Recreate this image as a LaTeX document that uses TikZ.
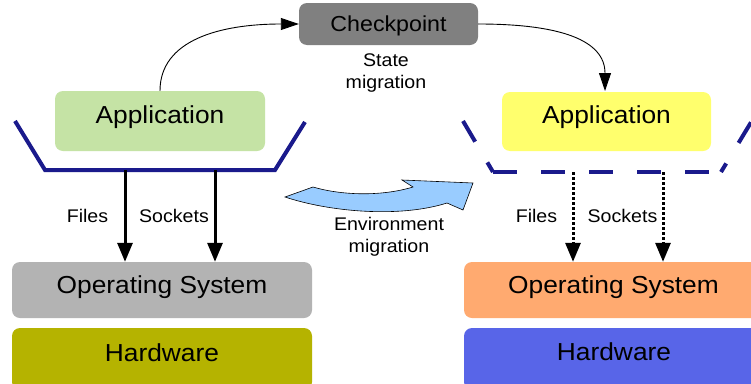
\documentclass[tikz,border=0pt]{standalone}
\usepackage{fontspec}
\setmainfont{Liberation Sans}[FakeStretch=1.07]
\usetikzlibrary{arrows.meta}
\definecolor{ckgray}{HTML}{808080}
\definecolor{appgreen}{HTML}{C5E3A5}
\definecolor{appyellow}{HTML}{FFFF6D}
\definecolor{osgray}{HTML}{B3B3B3}
\definecolor{hwolive}{HTML}{B5B300}
\definecolor{osorange}{HTML}{FFAA70}
\definecolor{hwblue}{HTML}{5865E8}
\definecolor{navy}{HTML}{1A1A8C}
\definecolor{arrowblue}{HTML}{99CCFF}
\tikzset{
  box/.style={rectangle, rounded corners=8pt, draw=none, inner sep=0pt, font=\fontsize{24.6}{28}\selectfont},
  baseoff/.style={text height=10pt+#1pt, text depth=10pt-#1pt},
  lbl/.style={inner sep=0pt, font=\fontsize{18.3}{22.5}\selectfont, align=center},
  thickarrow/.style={line width=3pt, -{Triangle[width=15pt,length=19pt]}},
  dotarrow/.style={line width=3pt, dash pattern=on 2.5pt off 2.5pt, -{Triangle[width=15pt,length=19pt]}},
  thinarrow/.style={line width=0.9pt, -{Triangle[width=12pt,length=18pt]}},
  wall/.style={line width=4pt, draw=navy},
}
\begin{document}
\begin{tikzpicture}[x=1pt,y=-1pt]
\clip (0,0) rectangle (751,383);
\fill[white] (0,0) rectangle (751,383);
% boxes
\node[box, fill=ckgray, minimum width=179pt, minimum height=42pt, baseoff=7.5, font=\fontsize{21.7}{25}\selectfont] (ck) at (388.5,24) {Checkpoint};
\node[box, fill=appgreen, minimum width=210pt, minimum height=60pt, baseoff=2.3] (lapp) at (160,121) {Application};
\node[box, fill=appyellow, minimum width=209pt, minimum height=59pt, baseoff=2] (rapp) at (606.5,121.5) {Application};
\node[box, fill=osgray, minimum width=300pt, minimum height=56pt, baseoff=3.3] (los) at (162,290) {Operating System};
\node[box, fill=hwolive, minimum width=300pt, minimum height=62pt, baseoff=2] (lhw) at (162,359) {Hardware};
\node[box, fill=osorange, minimum width=336pt, minimum height=56pt, baseoff=3.3] (ros) at (632,290) {\hspace*{-37pt}Operating System};
\node[box, fill=hwblue, minimum width=336pt, minimum height=62pt, baseoff=1] (rhw) at (632,359) {\hspace*{-36pt}Hardware};
% trapezoids
\coordinate (ltl) at (15,121);
\coordinate (lbl) at (45,170);
\coordinate (lbr) at (275,170);
\coordinate (ltr) at (305,122);
\draw[wall] (ltl) -- (lbl) -- (lbr) -- (ltr);
\coordinate (rtl) at (463,121);
\coordinate (rbl) at (493,172);
\coordinate (rbr) at (721,172);
\coordinate (rtr) at (753,119);
\draw[wall, dash pattern=on 24pt off 24pt] (rtl) -- (rbl);
\draw[wall, dash pattern=on 24pt off 24pt] (rbl) -- (rbr);
\draw[wall, dash pattern=on 24pt off 24pt, dash phase=14pt] (rbr) -- (rtr);
% arrows to OS
\coordinate (lf) at (125,170);
\coordinate (ls) at (215,170);
\coordinate (rf) at (573,172);
\coordinate (rs) at (663,172);
\draw[thickarrow] (lf) -- (lf |- los.north);
\draw[thickarrow] (ls) -- (ls |- los.north);
\draw[dotarrow] (rf) -- (rf |- ros.north);
\draw[dotarrow] (rs) -- (rs |- ros.north);
\node[lbl] (lfiles) at (87.5,216) {Files};
\node[lbl] (lsock) at (174,216) {Sockets};
\node[lbl] (rfiles) at (536.5,216) {Files};
\node[lbl] (rsock) at (622.5,216) {Sockets};
% state migration curves
\draw[thinarrow] (lapp.north) .. controls (160,40) and (220,24) .. (ck.west);
\draw[thinarrow] (ck.east) .. controls (560,24) and (605,40) .. (605,91);
\node[lbl] (state) at (386,73) {State\\migration};
% environment migration arrow
\draw[fill=arrowblue, draw=black, line width=0.6pt]
  (285,197) .. controls (330,212) and (400,218) .. (447,203)
  -- (463,210) -- (473,183) -- (402,180) -- (413,187)
  .. controls (380,197) and (340,195) .. (313,187) -- cycle;
\node[lbl] (env) at (389,237) {Environment\\migration};
\end{tikzpicture}
\end{document}
